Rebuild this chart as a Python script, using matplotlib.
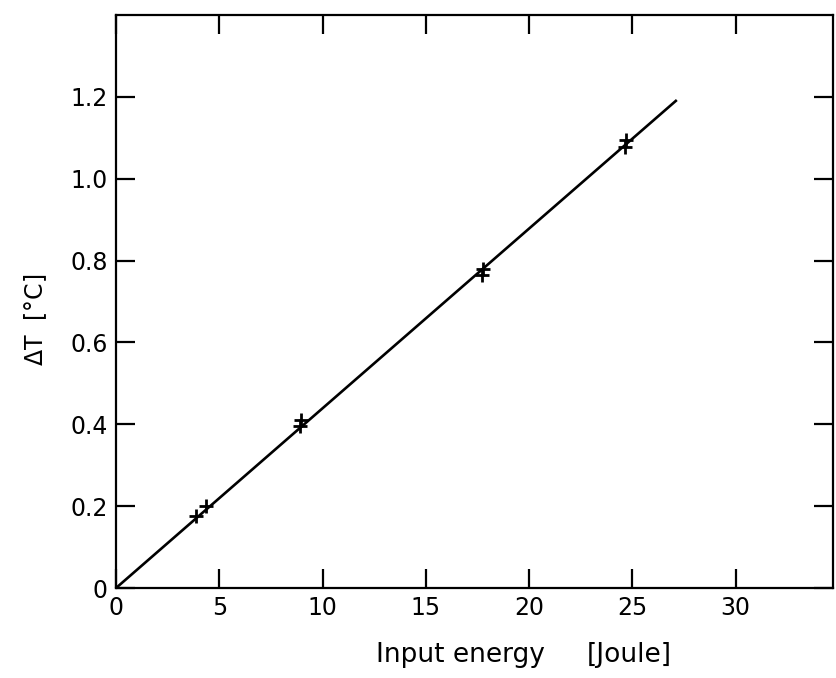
import numpy as np
import matplotlib
matplotlib.use('Agg')
import matplotlib.pyplot as plt

energy = [3.85, 4.38, 8.9, 8.95, 17.7, 17.75, 24.65, 24.7]
delta_t = [0.175, 0.200, 0.395, 0.410, 0.765, 0.780, 1.078, 1.095]

# fitted line
fit_x = [0.0, 27.1]
fit_y = [0.0, 1.19]

xticks = [0, 5, 10, 15, 20, 25, 30]
yticks = [0, 0.2, 0.4, 0.6, 0.8, 1.0, 1.2]
ytick_labels = ['0', '0.2', '0.4', '0.6', '0.8', '1.0', '1.2']

fig = plt.figure(figsize=(8.37, 6.78), dpi=100)
ax = fig.add_axes([0.1386, 0.1327, 0.8564, 0.8453])

ax.plot(fit_x, fit_y, color='black', linewidth=1.9, zorder=2)
ax.plot(energy, delta_t, linestyle='none', marker='+', markersize=10,
        markeredgewidth=2.0, color='black', zorder=3)

ax.set_xlim(0, 34.7)
ax.set_ylim(0, 1.40)
ax.set_xticks(xticks)
ax.set_xticklabels([str(t) for t in xticks])
ax.set_yticks(yticks)
ax.set_yticklabels(ytick_labels)

ax.tick_params(direction='in', length=14, width=1.6, top=True, right=True,
               labelsize=17, pad=6)
for s in ax.spines.values():
    s.set_linewidth(1.6)

fig.text(0.042, 1 - 320 / 678, r'$\Delta$T  [$\degree$C]', rotation=90,
         ha='center', va='center', fontsize=17)
fig.text(545 / 837, 1 - 655 / 678, 'Input energy', ha='right', va='center', fontsize=19)
fig.text(587 / 837, 1 - 655 / 678, '[Joule]', ha='left', va='center', fontsize=19)

fig.savefig('out.png', dpi=100)
